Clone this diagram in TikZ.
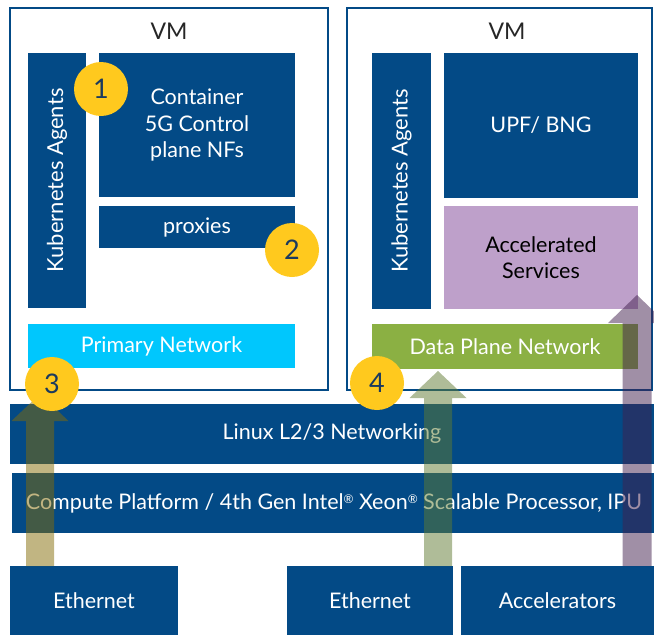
\documentclass[tikz,border=0pt]{standalone}
\usepackage{fontspec}
\setmainfont{Lato}
\usetikzlibrary{calc}
\definecolor{iblue}{HTML}{034A86}
\definecolor{icyan}{HTML}{00C7FD}
\definecolor{igreen}{HTML}{8BB043}
\definecolor{ipurple}{HTML}{BEA0CA}
\definecolor{iyellow}{HTML}{FFC91E}
\definecolor{inum}{HTML}{1B3A5E}
\definecolor{aThree}{RGB}{132,107,5}
\definecolor{aFour}{RGB}{95,122,49}
\definecolor{aFive}{RGB}{65,31,77}
\newcommand{\regmark}{\raisebox{0.55ex}{\fontsize{12}{12}\selectfont ®}}
\tikzset{
  box/.style={fill=iblue, text=white, inner sep=0pt, font=\fontsize{21.5}{26.5}\selectfont, align=center},
  vmbox/.style={draw=iblue, line width=1.2pt, inner sep=0pt},
  vmlabel/.style={text=black!85, font=\fontsize{23}{26}\selectfont},
  vtext/.style={text=white, rotate=90, font=\fontsize{22}{26}\selectfont},
  badge/.style={circle, fill=iyellow, minimum size=54pt, inner sep=0pt, text=inum, font=\fontsize{27}{30}\selectfont},
  arrThree/.style={fill=aThree, fill opacity=0.5},
  arrFour/.style={fill=aFour, fill opacity=0.5},
  arrFive/.style={fill=aFive, fill opacity=0.5},
}
\begin{document}
\begin{tikzpicture}[x=1pt,y=-1pt]
\useasboundingbox (0,0) rectangle (654,635);
% VM boxes
\node[vmbox, minimum width=318pt, minimum height=382pt] (vmL) at (169,199) {};
\node[vmbox, minimum width=305pt, minimum height=382pt] (vmR) at (499.5,199) {};
\node[vmlabel] (vmLt) at (169,31) {VM};
\node[vmlabel] (vmRt) at (507,31) {VM};
% left VM contents
\node[box, minimum width=58pt, minimum height=255pt] (k8sL) at (57,180.5) {};
\node[vtext] (k8sLt) at (k8sL) {Kubernetes Agents};
\node[box, minimum width=196pt, minimum height=144pt] (cont) at (197,125) {Container\\5G Control\\plane NFs};
\node[box, minimum width=196pt, minimum height=42pt] (prox) at (197,227) {proxies};
\node[box, fill=icyan, minimum width=267pt, minimum height=44pt] (prim) at (161.5,346) {Primary Network};
% right VM contents
\node[box, minimum width=59pt, minimum height=256pt] (k8sR) at (401.5,181) {};
\node[vtext] (k8sRt) at (k8sR) {Kubernetes Agents};
\node[box, minimum width=194pt, minimum height=145pt] (upf) at (541,125.5) {UPF/ BNG};
\node[box, fill=ipurple, text=black, minimum width=194pt, minimum height=103pt] (acc) at (541,257.5) {Accelerated\\Services};
\node[box, fill=igreen, minimum width=266pt, minimum height=45pt] (dpn) at (505,346.5) {Data Plane Network};
% platform bars
\node[box, minimum width=644pt, minimum height=60pt] (linux) at (332,434) {Linux L2/3 Networking};
\node[box, minimum width=644pt, minimum height=60pt] (comp) at (334,503) {Compute Platform / 4th Gen Intel\regmark{} Xeon\regmark{} Scalable Processor, IPU};
% hardware
\node[box, minimum width=168pt, minimum height=69pt] (eth1) at (94,600.5) {Ethernet};
\node[box, minimum width=166pt, minimum height=69pt] (eth2) at (370,600.5) {Ethernet};
\node[box, minimum width=193pt, minimum height=69pt] (accel) at (557.5,600.5) {Accelerators};
% arrows
\coordinate (a3s) at (40,566);  \coordinate (a3b) at (40,421); \coordinate (a3e) at (40,394);
\coordinate (a4s) at (438,566); \coordinate (a4b) at (438,398); \coordinate (a4e) at (438,371);
\coordinate (a5s) at (637,566); \coordinate (a5b) at (637,323); \coordinate (a5e) at (637,295);
\fill[arrThree] ($(a3s)+(-14,0)$) -- ($(a3b)+(-14,0)$) -- ($(a3b)+(-28.5,0)$) -- (a3e) -- ($(a3b)+(28.5,0)$) -- ($(a3b)+(14,0)$) -- ($(a3s)+(14,0)$) -- cycle;
\fill[arrFour] ($(a4s)+(-14,0)$) -- ($(a4b)+(-14,0)$) -- ($(a4b)+(-28.5,0)$) -- (a4e) -- ($(a4b)+(28.5,0)$) -- ($(a4b)+(14,0)$) -- ($(a4s)+(14,0)$) -- cycle;
\fill[arrFive] ($(a5s)+(-14.5,0)$) -- ($(a5b)+(-14.5,0)$) -- ($(a5b)+(-29,0)$) -- (a5e) -- ($(a5b)+(29,0)$) -- ($(a5b)+(14.5,0)$) -- ($(a5s)+(14.5,0)$) -- cycle;
% badges
\node[badge] (b1) at (101,89) {1};
\node[badge] (b2) at (292,250) {2};
\node[badge] (b3) at (52,384) {3};
\node[badge] (b4) at (377,383) {4};
\end{tikzpicture}
\end{document}
